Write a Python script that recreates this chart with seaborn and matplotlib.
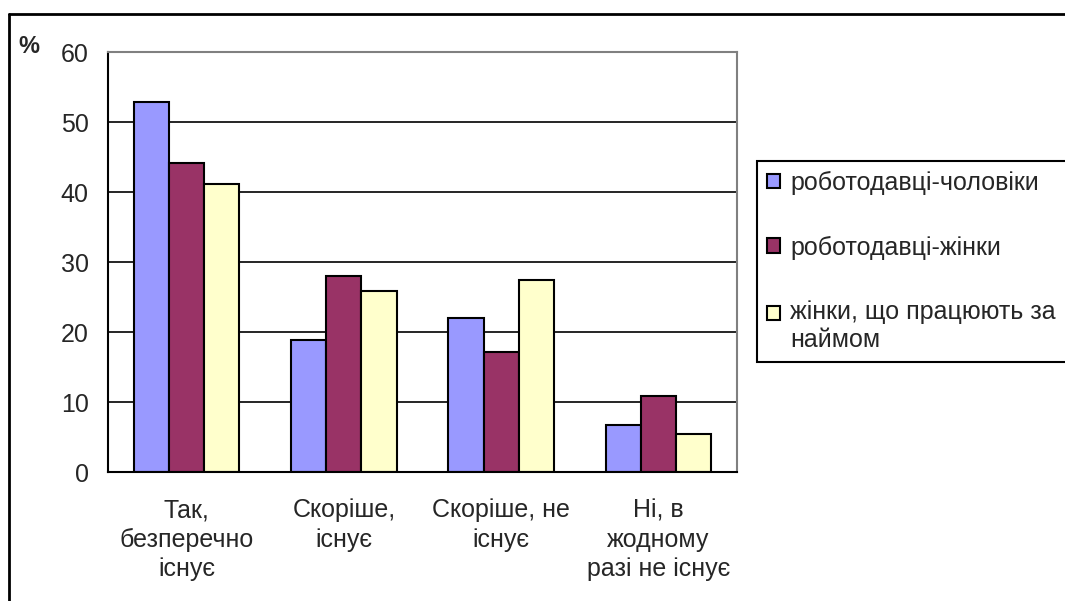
import matplotlib
matplotlib.use("Agg")
import matplotlib.pyplot as plt
import seaborn as sns
import pandas as pd
from matplotlib.lines import Line2D
from matplotlib.patches import Rectangle
from matplotlib.legend_handler import HandlerPatch

categories = ["Так,\nбезперечно\nіснує", "Скоріше,\nіснує", "Скоріше, не\nіснує", "Ні, в\nжодному\nразі не існує"]
series = ["роботодавці-чоловіки", "роботодавці-жінки", "жінки, що працюють за наймом"]
legend_labels = ["роботодавці-чоловіки", "роботодавці-жінки", "жінки, що працюють за\nнаймом"]
men_employers = [52.8, 18.8, 22.0, 6.7]
women_employers = [44.1, 28.0, 17.2, 10.9]
women_hired = [41.2, 25.9, 27.4, 5.4]
colors = ["#9999FF", "#993366", "#FFFFCC"]
yticks = [0, 10, 20, 30, 40, 50, 60]

rows = []
for s, vals in zip(series, [men_employers, women_employers, women_hired]):
    for c, v in zip(categories, vals):
        rows.append({"cat": c, "series": s, "val": v})
df = pd.DataFrame(rows)

sns.set_style("white")
plt.rcParams["font.family"] = ["Liberation Sans", "DejaVu Sans"]

FS = 18
W, H = 1065, 601
fig = plt.figure(figsize=(W / 100, H / 100), dpi=100)
ax = fig.add_axes([108 / W, 1 - 472 / H, (737 - 108) / W, (472 - 52) / H])

sns.barplot(data=df, x="cat", y="val", hue="series", order=categories, hue_order=series,
            palette=colors, saturation=1, width=0.67, gap=0, edgecolor="black",
            linewidth=1.5, ax=ax, errorbar=None)

ax.set_xlim(-0.5, 3.5)
ax.set_ylim(0, 60)
ax.set_yticks(yticks)
ax.set_yticklabels([str(t) for t in yticks], fontsize=FS)
ax.set_xticks(range(len(categories)))
ax.set_xticklabels(categories, fontsize=FS, linespacing=1.27)
ax.set_xticks([-0.5, 0.5, 1.5, 2.5, 3.5], minor=True)
ax.tick_params(axis="x", which="major", length=0, pad=19)
ax.tick_params(axis="x", which="minor", length=6, width=1.5, direction="out", color="black")
ax.tick_params(axis="y", length=6, width=1.5, direction="out", color="black", pad=8)
ax.set_xlabel("")
ax.set_ylabel("")

ax.yaxis.grid(True, color="black", linewidth=1.2)
ax.set_axisbelow(True)
for side in ["left", "bottom"]:
    ax.spines[side].set_visible(True)
    ax.spines[side].set_color("black")
    ax.spines[side].set_linewidth(1.5)
for side in ["top", "right"]:
    ax.spines[side].set_visible(True)
    ax.spines[side].set_color("#808080")
    ax.spines[side].set_linewidth(1.5)

handles, _ = ax.get_legend_handles_labels()
if ax.get_legend() is not None:
    ax.get_legend().remove()


def first_line_patch(legend, orig_handle, xdescent, ydescent, width, height, fontsize):
    return Rectangle((-xdescent, -ydescent + 0.55 * fontsize), width, height)


leg = fig.legend(handles, legend_labels, loc="upper left",
                 bbox_to_anchor=(757 / W, 1 - 360 / H, 330 / W, (360 - 161) / H),
                 mode="expand", fontsize=FS, frameon=True, fancybox=False,
                 edgecolor="black", framealpha=1, handlelength=0.52, handleheight=0.52,
                 handletextpad=0.4, labelspacing=1.62, borderpad=0.4, borderaxespad=0,
                 handler_map={handles[2]: HandlerPatch(patch_func=first_line_patch)})
leg.get_frame().set_linewidth(1.5)

fig.text(18 / W, 1 - 53 / H, "%", fontsize=17, fontweight="bold", ha="left", va="baseline")

fig.add_artist(Line2D([9 / W, 1.0], [1 - 13.5 / H, 1 - 13.5 / H], transform=fig.transFigure,
                      color="black", linewidth=2))
fig.add_artist(Line2D([9 / W, 9 / W], [0, 1 - 13.5 / H], transform=fig.transFigure,
                      color="black", linewidth=2))

fig.savefig("out.png", dpi=100)
